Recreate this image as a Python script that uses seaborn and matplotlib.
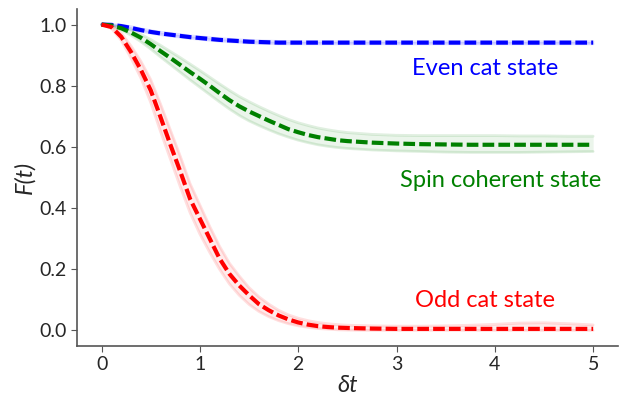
import numpy as np
import matplotlib
matplotlib.use("Agg")
import matplotlib.pyplot as plt
import seaborn as sns

# ---- data ----
t = [0.0, 0.1, 0.2, 0.3, 0.4, 0.5, 0.6, 0.7, 0.8, 0.9, 1.0, 1.1, 1.2, 1.3, 1.4,
     1.5, 1.6, 1.7, 1.8, 1.9, 2.0, 2.1, 2.2, 2.3, 2.4, 2.5, 2.75, 3.0, 3.25,
     3.5, 3.75, 4.0, 4.25, 4.5, 4.75, 5.0]

even_mean = [1.0, 0.999, 0.995, 0.989, 0.982, 0.976, 0.971, 0.967, 0.963, 0.959,
             0.956, 0.953, 0.950, 0.948, 0.946, 0.944, 0.943, 0.942, 0.941, 0.941,
             0.941, 0.941, 0.941, 0.941, 0.941, 0.941, 0.941, 0.941, 0.941,
             0.941, 0.941, 0.941, 0.941, 0.941, 0.941, 0.941]
even_upper = [1.0, 1.0, 0.998, 0.993, 0.986, 0.980, 0.975, 0.971, 0.967, 0.963,
              0.960, 0.957, 0.954, 0.952, 0.950, 0.948, 0.947, 0.946, 0.945, 0.945,
              0.944, 0.944, 0.944, 0.944, 0.944, 0.944, 0.944, 0.944, 0.944,
              0.944, 0.944, 0.944, 0.944, 0.944, 0.944, 0.944]
even_lower = [1.0, 0.998, 0.992, 0.985, 0.978, 0.972, 0.967, 0.963, 0.959, 0.955,
              0.952, 0.949, 0.946, 0.944, 0.942, 0.940, 0.939, 0.938, 0.937, 0.937,
              0.937, 0.937, 0.937, 0.937, 0.937, 0.937, 0.937, 0.937, 0.937,
              0.937, 0.937, 0.937, 0.937, 0.937, 0.937, 0.937]

spin_mean = [1.0, 0.997, 0.988, 0.974, 0.957, 0.936, 0.913, 0.891, 0.868, 0.845,
             0.823, 0.800, 0.776, 0.753, 0.733, 0.716, 0.701, 0.686, 0.672, 0.658,
             0.648, 0.639, 0.632, 0.627, 0.622, 0.619, 0.614, 0.611, 0.609,
             0.608, 0.607, 0.607, 0.607, 0.607, 0.607, 0.607]
spin_upper = [1.0, 0.998, 0.992, 0.982, 0.968, 0.951, 0.932, 0.912, 0.892, 0.871,
              0.850, 0.828, 0.806, 0.785, 0.765, 0.748, 0.732, 0.717, 0.703, 0.690,
              0.679, 0.670, 0.662, 0.656, 0.651, 0.647, 0.641, 0.638, 0.637,
              0.637, 0.637, 0.637, 0.636, 0.636, 0.635, 0.635]
spin_lower = [1.0, 0.995, 0.983, 0.965, 0.944, 0.920, 0.894, 0.869, 0.844, 0.819,
              0.795, 0.771, 0.747, 0.724, 0.703, 0.685, 0.670, 0.656, 0.643, 0.632,
              0.622, 0.614, 0.607, 0.602, 0.598, 0.595, 0.590, 0.587, 0.585,
              0.583, 0.582, 0.582, 0.582, 0.583, 0.584, 0.585]

odd_mean = [1.0, 0.992, 0.960, 0.910, 0.852, 0.785, 0.697, 0.607, 0.520, 0.430,
            0.365, 0.300, 0.235, 0.185, 0.147, 0.115, 0.086, 0.066, 0.049, 0.036,
            0.026, 0.019, 0.014, 0.011, 0.009, 0.008, 0.006, 0.005, 0.005,
            0.005, 0.005, 0.005, 0.005, 0.005, 0.005, 0.005]
odd_upper = [1.0, 0.996, 0.972, 0.930, 0.880, 0.820, 0.740, 0.655, 0.570, 0.480,
             0.410, 0.340, 0.275, 0.220, 0.178, 0.140, 0.110, 0.086, 0.066, 0.051,
             0.040, 0.032, 0.026, 0.022, 0.019, 0.017, 0.015, 0.014, 0.014,
             0.015, 0.017, 0.020, 0.024, 0.025, 0.022, 0.018]
odd_lower = [1.0, 0.988, 0.948, 0.890, 0.825, 0.745, 0.650, 0.560, 0.470, 0.385,
             0.315, 0.255, 0.200, 0.152, 0.115, 0.085, 0.062, 0.045, 0.032, 0.022,
             0.015, 0.010, 0.006, 0.004, 0.002, 0.001, 0.0, 0.0, 0.0,
             0.0, 0.0, 0.0, 0.0, 0.0, 0.0, 0.0]

labels = ["Even cat state", "Spin coherent state", "Odd cat state"]
colors = ["blue", "green", "red"]
label_pos = [(3.9, 0.856), (4.06, 0.489), (3.9, 0.098)]
x_ticks = [0, 1, 2, 3, 4, 5]
y_ticks = [0.0, 0.2, 0.4, 0.6, 0.8, 1.0]

# ---- plotting ----
sns.set_style("ticks")
plt.rcParams["font.family"] = ["Lato", "DejaVu Sans"]

fig = plt.figure(figsize=(6.23, 3.95), dpi=100)
ax = fig.add_axes([0.1236, 0.1248, 0.8679, 0.8517])

series = [(even_mean, even_upper, even_lower),
          (spin_mean, spin_upper, spin_lower),
          (odd_mean, odd_upper, odd_lower)]

for (mean, up, lo), c in zip(series, colors):
    ax.fill_between(t, lo, up, color=c, alpha=0.08, linewidth=0)
    sns.lineplot(x=t, y=up, ax=ax, color=c, alpha=0.12, linewidth=2.0)
    sns.lineplot(x=t, y=lo, ax=ax, color=c, alpha=0.12, linewidth=2.0)

for (mean, up, lo), c in zip(series, colors):
    sns.lineplot(x=t, y=mean, ax=ax, color=c, linewidth=3.0,
                 linestyle=(0, (2.8, 1.0)))

for lab, c, (lx, ly) in zip(labels, colors, label_pos):
    ax.text(lx, ly, lab, color=c, fontsize=17, ha="center", va="center")

ax.set_xticks(x_ticks)
ax.set_yticks(y_ticks)
ax.set_xticklabels([str(v) for v in x_ticks])
ax.set_yticklabels([f"{v:.1f}" for v in y_ticks])
ax.tick_params(labelsize=14, length=4, color="#555555")
ax.set_xlim(-0.25, 5.25)
ax.set_ylim(-0.05, 1.05)

ax.set_xlabel("\u03b4t", fontsize=17, fontstyle="italic", labelpad=1)
ax.set_ylabel("F(t)", fontsize=17, fontstyle="italic", labelpad=3)

sns.despine(ax=ax)
for s in ["left", "bottom"]:
    ax.spines[s].set_color("#555555")
    ax.spines[s].set_linewidth(1.2)

fig.savefig("out.png", dpi=100)
